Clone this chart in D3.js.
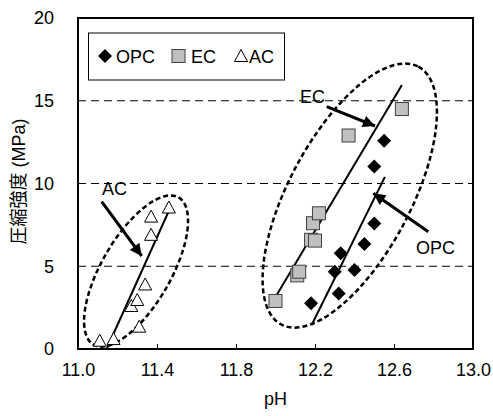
<!DOCTYPE html>
<html>
<head>
<meta charset="utf-8">
<script src="https://cdn.jsdelivr.net/npm/d3@7"></script>
<style>
 body { margin: 0; background: #fff; }
 text { font-family: Arial, "Liberation Sans", sans-serif; fill: #000; }
</style>
</head>
<body>
<svg width="493" height="416"></svg>
<script>
 // data
 var opcPH = [12.18, 12.32, 12.30, 12.40, 12.33, 12.45, 12.50, 12.50, 12.55];
 var opcStrength = [2.76, 3.36, 4.67, 4.77, 5.78, 6.34, 7.59, 11.02, 12.59];

 var ecPH = [12.00, 12.11, 12.12, 12.18, 12.20, 12.19, 12.22, 12.37, 12.64];
 var ecStrength = [2.9, 4.45, 4.67, 6.6, 6.55, 7.6, 8.2, 12.9, 14.5];

 var acPH = [11.11, 11.18, 11.31, 11.27, 11.30, 11.34, 11.37, 11.37, 11.46];
 var acStrength = [0.5, 0.6, 1.35, 2.6, 2.96, 3.9, 6.9, 8.0, 8.55];

 // trend lines [pH, strength] endpoints
 var opcLine = [[12.183, 1.45], [12.554, 10.4]];
 var ecLine = [[12.003, 3.2], [12.64, 15.95]];
 var acLine = [[11.145, 0], [11.462, 8.4]];

 var xTicks = [11.0, 11.4, 11.8, 12.2, 12.6, 13.0];
 var yTicks = [0, 5, 10, 15, 20];
 var gridValues = [5, 10, 15];

 var svg = d3.select("svg");
 var margin = { left: 78, right: 473, top: 18, bottom: 349 };

 var x = d3.scaleLinear().domain([11, 13]).range([margin.left, margin.right]);
 var y = d3.scaleLinear().domain([0, 20]).range([margin.bottom, margin.top]);

 //gridlines
 svg.append("g")
   .selectAll("line")
   .data(gridValues)
   .enter()
   .append("line")
   .attr("x1", x(11)).attr("x2", x(13))
   .attr("y1", d => y(d)).attr("y2", d => y(d))
   .attr("stroke", "#000")
   .attr("stroke-width", 1)
   .attr("stroke-dasharray", "8,5");

 // x axis, ticks inside
 var xAxis = d3.axisBottom(x).tickValues(xTicks).tickSize(-5).tickPadding(14)
   .tickFormat(d3.format(".1f"));
 var gx = svg.append("g").attr("transform", "translate(0," + margin.bottom + ")").call(xAxis);
 gx.select(".domain").remove();
 gx.selectAll("line").attr("stroke", "#000");
 gx.selectAll("text").attr("font-size", 18).attr("dy", "0.71em")
   .style("font-family", "Arial, 'Liberation Sans', sans-serif");

 var yAxis = d3.axisLeft(y).tickValues(yTicks).tickSize(0).tickPadding(24);
 var gy = svg.append("g").attr("transform", "translate(" + margin.left + ",0)").call(yAxis);
 gy.select(".domain").remove();
 gy.selectAll("text").attr("font-size", 18)
   .style("font-family", "Arial, 'Liberation Sans', sans-serif");

 // frame
 svg.append("rect")
   .attr("x", margin.left).attr("y", margin.top)
   .attr("width", margin.right - margin.left)
   .attr("height", margin.bottom - margin.top)
   .attr("fill", "none").attr("stroke", "#000").attr("stroke-width", 2);

 // axis titles
 svg.append("text").attr("x", (margin.left + margin.right) / 2).attr("y", 405)
   .attr("text-anchor", "middle").attr("font-size", 18).text("pH");
 svg.append("text")
   .attr("transform", "translate(25," + ((margin.top + margin.bottom) / 2 - 2) + ") rotate(-90)")
   .attr("text-anchor", "middle").attr("font-size", 18)
   .style("font-family", "Arial, 'Noto Sans CJK JP', sans-serif")
   .text("圧縮強度 (MPa)");

 // dashed ellipses: center in data, radii in px, angle in deg
 var ellipses = [
   { cx: 12.376, cy: 9.27, rx: 146, ry: 61, angle: -62 },
   { cx: 11.294, cy: 4.71, rx: 85, ry: 34.6, angle: -60 }
 ];
 svg.append("g")
   .selectAll("ellipse")
   .data(ellipses)
   .enter()
   .append("ellipse")
   .attr("cx", 0).attr("cy", 0)
   .attr("rx", d => d.rx).attr("ry", d => d.ry)
   .attr("transform", d => "translate(" + x(d.cx) + "," + y(d.cy) + ") rotate(" + d.angle + ")")
   .attr("fill", "none")
   .attr("stroke", "#000")
   .attr("stroke-width", 2.5)
   .attr("stroke-dasharray", "5,3");

 // trend lines
 var line = d3.line().x(d => x(d[0])).y(d => y(d[1]));
 svg.append("g")
   .selectAll("path")
   .data([opcLine, ecLine, acLine])
   .enter()
   .append("path")
   .attr("d", line)
   .attr("fill", "none")
   .attr("stroke", "#000")
   .attr("stroke-width", 2);

 // markers
 var diamond = "M0,-7L7,0L0,7L-7,0Z";
 var triangle = "M0,-6.5L6.5,5.5L-6.5,5.5Z";

 svg.append("g")
   .selectAll("path")
   .data(acPH.map((p, i) => [p, acStrength[i]]))
   .enter()
   .append("path")
   .attr("d", triangle)
   .attr("transform", d => "translate(" + x(d[0]) + "," + y(d[1]) + ")")
   .attr("fill", "#fff")
   .attr("stroke", "#000")
   .attr("stroke-width", 1);

 svg.append("g")
   .selectAll("rect")
   .data(ecPH.map((p, i) => [p, ecStrength[i]]))
   .enter()
   .append("rect")
   .attr("x", d => x(d[0]) - 6.5).attr("y", d => y(d[1]) - 6.5)
   .attr("width", 13).attr("height", 13)
   .attr("fill", "#c0c0c0")
   .attr("stroke", "#404040")
   .attr("stroke-width", 1);

 svg.append("g")
   .selectAll("path")
   .data(opcPH.map((p, i) => [p, opcStrength[i]]))
   .enter()
   .append("path")
   .attr("d", diamond)
   .attr("transform", d => "translate(" + x(d[0]) + "," + y(d[1]) + ")")
   .attr("fill", "#000");

 // arrows + labels
 svg.append("defs").append("marker")
   .attr("id", "head")
   .attr("viewBox", "0 0 10 10")
   .attr("refX", 10).attr("refY", 5)
   .attr("markerWidth", 5).attr("markerHeight", 4)
   .attr("markerUnits", "strokeWidth")
   .attr("orient", "auto")
   .append("path").attr("d", "M0,0L10,5L0,10Z").attr("fill", "#000");

 var arrows = [
   { x1: 101.7, y1: 201.7, x2: 141.7, y2: 256 },
   { x1: 326.7, y1: 106.7, x2: 375, y2: 126 },
   { x1: 428.3, y1: 231.7, x2: 373.3, y2: 193.3 }
 ];
 svg.append("g")
   .selectAll("line")
   .data(arrows)
   .enter()
   .append("line")
   .attr("x1", d => d.x1).attr("y1", d => d.y1)
   .attr("x2", d => d.x2).attr("y2", d => d.y2)
   .attr("stroke", "#000")
   .attr("stroke-width", 3)
   .attr("marker-end", "url(#head)");

 var labels = [
   { text: "AC", x: 102, y: 195 },
   { text: "EC", x: 300, y: 103 },
   { text: "OPC", x: 416, y: 254 }
 ];
 svg.append("g")
   .selectAll("text")
   .data(labels)
   .enter()
   .append("text")
   .attr("x", d => d.x).attr("y", d => d.y)
   .attr("font-size", 18)
   .text(d => d.text);

 // legend
 var lg = svg.append("g");
 lg.append("rect").attr("x", 88.5).attr("y", 33).attr("width", 196).attr("height", 47)
   .attr("fill", "#fff").attr("stroke", "#000").attr("stroke-width", 1);
 lg.append("path").attr("d", diamond).attr("transform", "translate(105,56)").attr("fill", "#000");
 lg.append("text").attr("x", 116).attr("y", 63).attr("font-size", 18).text("OPC");
 lg.append("rect").attr("x", 172).attr("y", 49.5).attr("width", 13).attr("height", 13)
   .attr("fill", "#c0c0c0").attr("stroke", "#404040");
 lg.append("text").attr("x", 191).attr("y", 63).attr("font-size", 18).text("EC");
 lg.append("path").attr("d", triangle).attr("transform", "translate(241,56)")
   .attr("fill", "#fff").attr("stroke", "#000");
 lg.append("text").attr("x", 249).attr("y", 63).attr("font-size", 18).text("AC");
</script>
</body>
</html>
